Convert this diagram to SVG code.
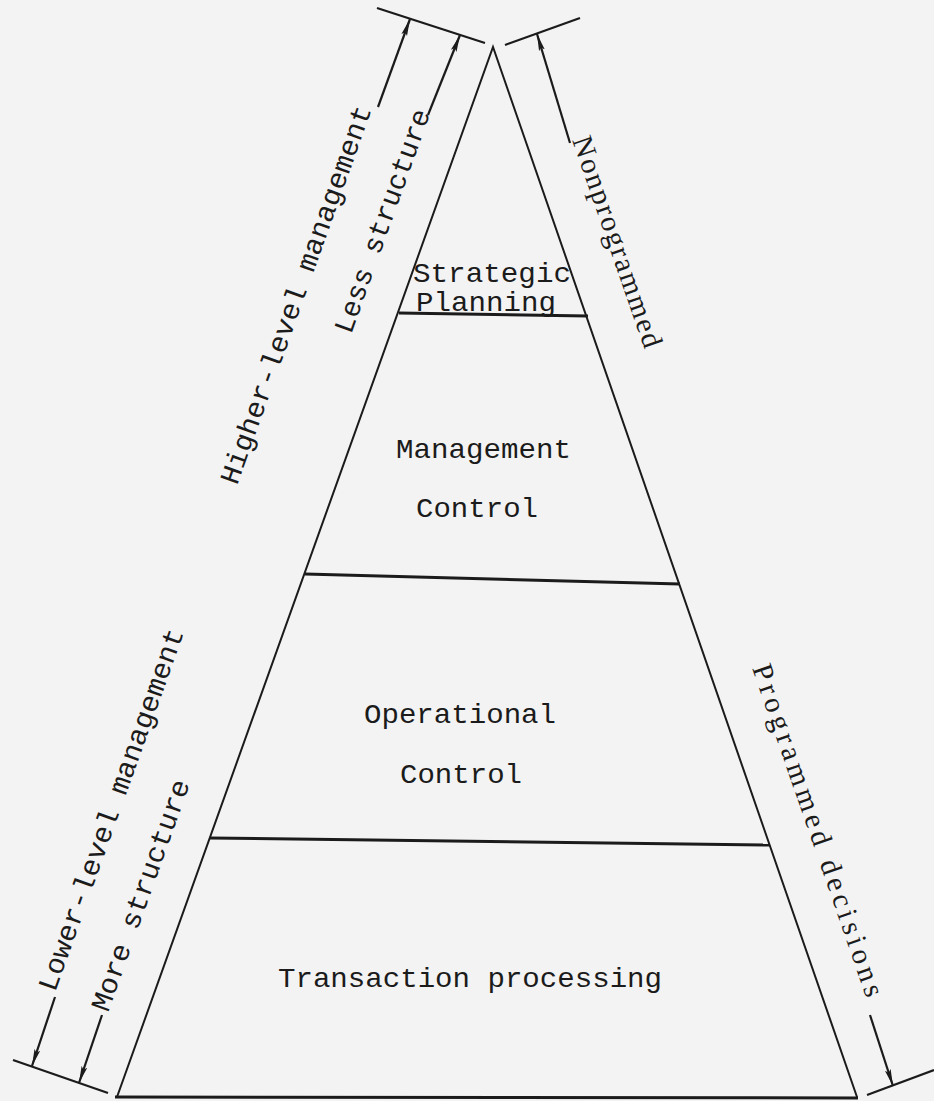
<svg xmlns="http://www.w3.org/2000/svg" width="934" height="1101" viewBox="0 0 934 1101">
  <style>
    .edge { stroke: #1b1b1b; stroke-width: 2; fill: none; stroke-linecap: round; }
    .tier { stroke: #1b1b1b; stroke-width: 3; fill: none; }
    .tick { stroke: #1b1b1b; stroke-width: 2.2; fill: none; }
    .arrow { stroke: #1b1b1b; stroke-width: 2.2; fill: none; marker-end: url(#head); }
    .mono { font-family: "Liberation Mono", "DejaVu Sans Mono", monospace; font-size: 28px; fill: #1b1b1b; }
    .serif { font-family: "Liberation Serif", "DejaVu Serif", serif; font-size: 29px; fill: #1b1b1b; }
  </style>
  <defs>
    <marker id="head" markerUnits="userSpaceOnUse" markerWidth="18" markerHeight="8" refX="17" refY="4" orient="auto">
      <path d="M0,1 L17,4 L0,7 L3,4 Z" fill="#1b1b1b"/>
    </marker>
  </defs>

  <rect x="0" y="0" width="934" height="1101" fill="#f3f3f3"/>

  <!-- pyramid outline -->
  <g id="pyramid">
    <polyline class="edge" points="117,1097 493,47 857,1097"/>
    <line class="tier" x1="115" y1="1097" x2="858" y2="1098"/>
  </g>

  <!-- tier: strategic planning -->
  <g id="strategic-planning">
    <line class="tier" x1="399" y1="313" x2="588" y2="316"/>
    <text class="mono" x="413" y="282" textLength="158" lengthAdjust="spacingAndGlyphs">Strategic</text>
    <text class="mono" x="416" y="311" textLength="140" lengthAdjust="spacingAndGlyphs">Planning</text>
  </g>

  <!-- tier: management control -->
  <g id="management-control">
    <line class="tier" x1="305" y1="574" x2="680" y2="584"/>
    <text class="mono" x="396" y="458" textLength="175" lengthAdjust="spacingAndGlyphs">Management</text>
    <text class="mono" x="416" y="517" textLength="122" lengthAdjust="spacingAndGlyphs">Control</text>
  </g>

  <!-- tier: operational control -->
  <g id="operational-control">
    <line class="tier" x1="210" y1="838" x2="770" y2="845"/>
    <text class="mono" x="364" y="723" textLength="192" lengthAdjust="spacingAndGlyphs">Operational</text>
    <text class="mono" x="400" y="783" textLength="122" lengthAdjust="spacingAndGlyphs">Control</text>
  </g>

  <!-- tier: transaction processing -->
  <g id="transaction-processing">
    <text class="mono" x="278" y="987" textLength="384" lengthAdjust="spacingAndGlyphs">Transaction processing</text>
  </g>

  <!-- side scales: tick bars with arrows -->
  <g id="connectors">
    <line class="tick" x1="377" y1="8" x2="485" y2="43"/>
    <line class="tick" x1="505" y1="45" x2="580" y2="18"/>
    <line class="tick" x1="13" y1="1060" x2="108" y2="1093"/>
    <line class="tick" x1="867" y1="1095" x2="934" y2="1070"/>
    <line class="arrow" x1="378" y1="107" x2="410" y2="19"/>
    <line class="arrow" x1="428" y1="115" x2="460" y2="35"/>
    <line class="arrow" x1="570" y1="143" x2="537" y2="34"/>
    <line class="arrow" x1="55" y1="997" x2="32" y2="1066"/>
    <line class="arrow" x1="102" y1="1015" x2="79" y2="1083"/>
    <line class="arrow" x1="870" y1="1015" x2="893" y2="1086"/>
  </g>

  <!-- left side labels -->
  <g id="label-higher">
    <text class="mono" transform="translate(237,486) rotate(-70.3)" textLength="400" lengthAdjust="spacingAndGlyphs">Higher-level management</text>
  </g>
  <g id="label-less">
    <text class="mono" transform="translate(351,335) rotate(-70.3)" textLength="236" lengthAdjust="spacingAndGlyphs">Less structure</text>
  </g>
  <g id="label-lower">
    <text class="mono" transform="translate(55,993) rotate(-70.3)" textLength="383" lengthAdjust="spacingAndGlyphs">Lower-level management</text>
  </g>
  <g id="label-more">
    <text class="mono" transform="translate(108,1013) rotate(-70.3)" textLength="244" lengthAdjust="spacingAndGlyphs">More structure</text>
  </g>

  <!-- right side labels -->
  <g id="label-nonprogrammed">
    <text class="serif" transform="translate(572,140) rotate(70.9)" textLength="222" lengthAdjust="spacing">Nonprogrammed</text>
  </g>
  <g id="label-programmed">
    <text class="serif" transform="translate(752,668) rotate(70.9)" textLength="350" lengthAdjust="spacing">Programmed decisions</text>
  </g>
</svg>
